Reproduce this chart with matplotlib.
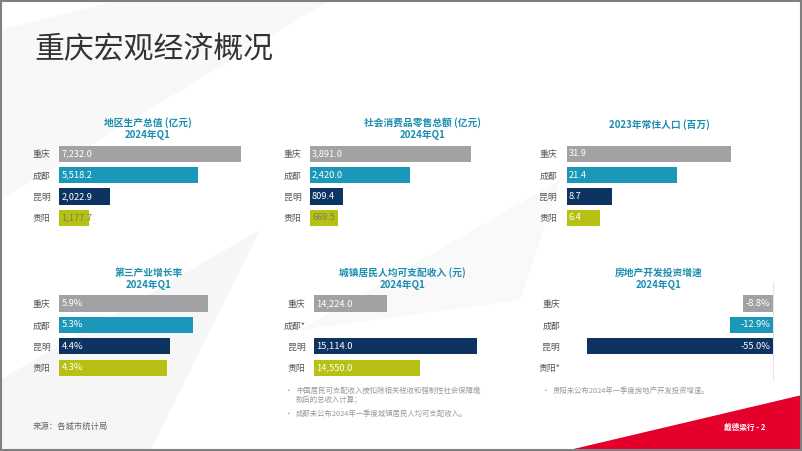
import matplotlib.pyplot as plt
from matplotlib.patches import Polygon, Rectangle

plt.rcParams['font.family'] = ['Noto Sans CJK SC', 'DejaVu Sans']

# Data
cities = ['重庆', '成都', '昆明', '贵阳']
gdp = [7232.0, 5518.2, 2022.9, 1177.7]
retail = [3891.0, 2420.0, 809.4, 669.5]
population = [31.9, 21.4, 8.7, 6.4]
tertiary = [5.9, 5.3, 4.4, 4.3]
income = [14224.0, None, 15114.0, 14550.0]
realestate = [-8.8, -12.9, -55.0, None]

income_labels = ['重庆', '成都*', '昆明', '贵阳']
realestate_labels = ['重庆', '成都', '昆明', '贵阳*']

colors = ['#a2a2a5', '#1b97ba', '#0d3461', '#b6c113']
teal = '#1a8db0'

W, H = 802, 451
fig = plt.figure(figsize=(W / 100, H / 100), dpi=100)


def fx(x):
    return x / W


def fy(y):
    return 1 - y / H


# faint background shapes
bg = fig.add_axes([0, 0, 1, 1], zorder=-5)
bg.set_xlim(0, W)
bg.set_ylim(H, 0)
bg.axis('off')
bg.add_patch(Polygon([(0, 30), (120, 0), (330, 0), (0, 200)], closed=True, color='#f8f8f8', lw=0))
bg.add_patch(Polygon([(0, 380), (260, 230), (150, 451), (0, 451)], closed=True, color='#f6f6f6', lw=0))
bg.add_patch(Polygon([(300, 330), (560, 180), (520, 300)], closed=True, color='#f9f9f9', lw=0))
bg.add_patch(Polygon([(565, 451), (802, 395), (802, 451)], closed=True, color='#e4002b', lw=0))
bg.add_patch(Rectangle((0.5, 0.5), W - 1.5, H - 1.5, fill=False, ec='#808080', lw=1.5))

# page title and footer
fig.text(fx(34), fy(50), '重庆宏观经济概况', fontsize=21.5, color='#333333', va='center', ha='left')
fig.text(fx(33), fy(426), '来源：各城市统计局', fontsize=6, color='#666666', va='center')
fig.text(fx(745), fy(427), '戴德梁行 - 2', fontsize=5.5, color='white', weight='bold', va='center', ha='center')

ROW_H = 21.4


def panel(left, right, top, values, labels, xmin, fmt, label_pad, neg=False, dark_last=False):
    ax = fig.add_axes([fx(left), fy(top + 4 * ROW_H), fx(right - left), 4 * ROW_H / H])
    ys = range(len(values))
    for i, v in zip(ys, values):
        if v is None:
            continue
        ax.barh(i, v, height=0.75, color=colors[i])
        txt = fmt(v)
        if neg:
            ax.annotate(txt, (0, i), xytext=(-2, 0), textcoords='offset points',
                        ha='right', va='center', fontsize=6.7, color='white')
        else:
            c = '#7f7d5c' if (dark_last and i == 3) else 'white'
            ax.annotate(txt, (xmin, i), xytext=(1.5, 0), textcoords='offset points',
                        ha='left', va='center', fontsize=6.7, color=c)
    vals = [v for v in values if v is not None]
    if neg:
        ax.set_xlim(min(vals), 0)
    else:
        ax.set_xlim(xmin, max(vals))
    ax.set_ylim(3.5, -0.5)
    ax.set_yticks(list(ys))
    ax.set_yticklabels(labels, fontsize=6.4, color='#555555')
    ax.tick_params(axis='y', length=0, pad=label_pad)
    ax.set_xticks([])
    for s in ax.spines.values():
        s.set_visible(False)
    ax.patch.set_alpha(0)
    return ax


def title(cx, y, lines):
    for k, t in enumerate(lines):
        fig.text(fx(cx), fy(y + k * 12), t, fontsize=7, color=teal, weight='bold', ha='center', va='center')


# row 1
panel(59.3, 241, 143, gdp, cities, 0, lambda v: f'{v:,.1f}', 6.5, dark_last=True)
title(148, 122.5, ['地区生产总值 (亿元)', '2024年Q1'])
panel(310, 471, 143, retail, cities, 0, lambda v: f'{v:,.1f}', 6.0, dark_last=True)
title(423, 122.5, ['社会消费品零售总额 (亿元)', '2024年Q1'])
panel(566.7, 731, 143, population, cities, 0, lambda v: f'{v:.1f}', 7.0)
title(659, 125, ['2023年常住人口 (百万)'])

# row 2
panel(59.3, 207.7, 292.8, tertiary, cities, 0, lambda v: f'{v:.1f}%', 6.5)
title(148.5, 273, ['第三产业增长率', '2024年Q1'])
panel(313.7, 477.3, 292.8, income, income_labels, 13500, lambda v: f'{v:,.1f}', 6.0)
title(402.5, 273, ['城镇居民人均可支配收入 (元)', '2024年Q1'])
ax6 = panel(587, 773.3, 292.8, realestate, realestate_labels, 0, lambda v: f'{v:.1f}%', 19.5, neg=True)
title(658.5, 273, ['房地产开发投资增速', '2024年Q1'])
bg.plot([773.3, 773.3], [282, 380], color='#e6e6e6', lw=0.8)

# notes
note_c = '#9a9a9a'
fig.text(fx(285), fy(391), '•', fontsize=5.5, color=note_c, va='center')
fig.text(fx(296), fy(391), '中国居民可支配收入按扣除相关税收和强制性社会保障缴', fontsize=5.3, color=note_c, va='center')
fig.text(fx(296), fy(400), '款后的总收入计算；', fontsize=5.3, color=note_c, va='center')
fig.text(fx(285), fy(413.5), '•', fontsize=5.5, color=note_c, va='center')
fig.text(fx(296), fy(413.5), '成都未公布2024年一季度城镇居民人均可支配收入。', fontsize=5.3, color=note_c, va='center')
fig.text(fx(542), fy(391), '•', fontsize=5.5, color=note_c, va='center')
fig.text(fx(553), fy(391), '贵阳未公布2024年一季度房地产开发投资增速。', fontsize=5.3, color=note_c, va='center')

fig.savefig('out.png', dpi=100)
